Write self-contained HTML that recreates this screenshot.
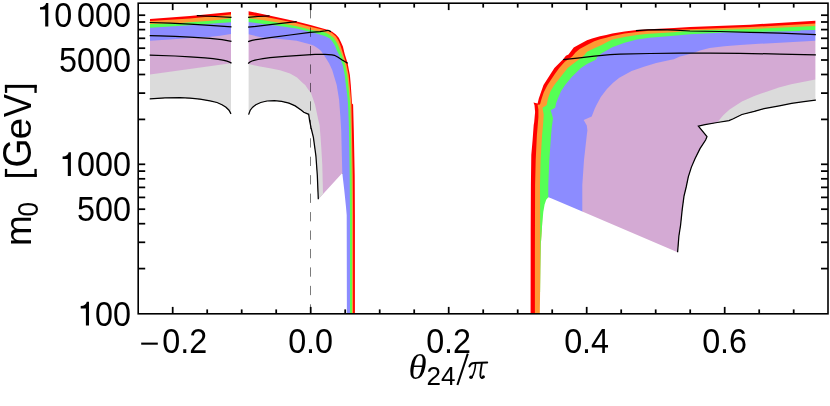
<!DOCTYPE html>
<html><head><meta charset="utf-8"><title>plot</title>
<style>html,body{margin:0;padding:0;background:#fff;}body{width:830px;height:406px;overflow:hidden;font-family:"Liberation Sans",sans-serif;}</style></head>
<body>
<svg width="830" height="406" viewBox="0 0 830 406" style="display:block;will-change:transform" font-family="Liberation Sans, sans-serif" fill="#000">
<polygon points="147.0,18.9 150.0,18.9 190.0,16.0 231.0,12.1 234.0,12.1 234.0,113.9 231.0,113.9 229.0,110.2 226.0,107.2 222.0,104.7 217.0,102.5 210.0,100.8 200.0,99.2 190.0,98.2 180.0,97.7 165.0,97.9 150.0,98.8 147.0,98.8" fill="#ff0000"/>
<polygon points="147.0,21.1 150.0,21.1 190.0,18.6 231.0,14.4 234.0,14.4 234.0,113.9 231.0,113.9 229.0,110.2 226.0,107.2 222.0,104.7 217.0,102.5 210.0,100.8 200.0,99.2 190.0,98.2 180.0,97.7 165.0,97.9 150.0,98.8 147.0,98.8" fill="#ff9933"/>
<polygon points="147.0,24.0 150.0,24.0 177.6,23.3 190.0,22.2 208.0,21.0 220.0,19.7 231.0,18.2 234.0,18.2 234.0,113.9 231.0,113.9 229.0,110.2 226.0,107.2 222.0,104.7 217.0,102.5 210.0,100.8 200.0,99.2 190.0,98.2 180.0,97.7 165.0,97.9 150.0,98.8 147.0,98.8" fill="#55ff55"/>
<polygon points="147.0,27.8 150.0,27.8 190.0,25.3 231.0,22.2 234.0,22.2 234.0,113.9 231.0,113.9 229.0,110.2 226.0,107.2 222.0,104.7 217.0,102.5 210.0,100.8 200.0,99.2 190.0,98.2 180.0,97.7 165.0,97.9 150.0,98.8 147.0,98.8" fill="#8c8cff"/>
<polygon points="147.0,40.7 150.0,40.7 170.0,39.5 190.0,38.0 209.0,37.1 220.0,35.7 231.0,34.0 234.0,34.0 234.0,113.9 231.0,113.9 229.0,110.2 226.0,107.2 222.0,104.7 217.0,102.5 210.0,100.8 200.0,99.2 190.0,98.2 180.0,97.7 165.0,97.9 150.0,98.8 147.0,98.8" fill="#d4aad4"/>
<polygon points="147.0,74.6 150.0,74.6 231.0,63.3 234.0,63.3 234.0,113.9 231.0,113.9 229.0,110.2 226.0,107.2 222.0,104.7 217.0,102.5 210.0,100.8 200.0,99.2 190.0,98.2 180.0,97.7 165.0,97.9 150.0,98.8 147.0,98.8" fill="#dbdbdb"/>
<polygon points="246.0,11.2 248.6,11.2 264.6,14.6 296.7,21.6 311.4,25.3 321.1,28.0 329.2,30.2 332.2,31.7 335.9,34.4 338.8,37.7 341.0,42.2 342.9,46.6 344.7,53.9 347.7,63.5 348.9,70.0 349.9,75.0 350.8,85.0 352.0,103.5 353.1,104.5 353.8,130.0 354.7,175.0 354.9,215.0 354.9,313.8 348.1,313.8 347.9,215.0 347.2,206.9 345.4,189.6 343.6,174.5 341.4,172.2 318.2,197.5 317.3,175.0 315.9,155.8 313.4,137.3 311.0,127.5 309.6,120.7 308.7,114.3 303.8,112.3 301.4,110.2 295.2,105.9 289.0,103.2 281.7,101.4 274.3,100.6 266.9,101.0 260.7,102.5 255.8,104.7 252.7,107.2 250.2,110.2 248.6,114.6 246.0,114.6" fill="#ff0000"/>
<polygon points="246.0,15.1 248.6,15.1 264.6,16.7 280.0,19.7 296.7,23.2 311.4,26.9 321.0,29.2 328.5,31.1 332.2,33.3 335.9,36.6 338.5,40.7 340.3,45.1 341.9,50.0 343.3,54.6 346.6,65.0 348.6,75.0 349.6,85.0 351.4,103.5 351.9,130.0 352.8,175.0 353.1,215.0 353.1,313.8 348.1,313.8 347.9,215.0 347.2,206.9 345.4,189.6 343.6,174.5 341.4,172.2 318.2,197.5 317.3,175.0 315.9,155.8 313.4,137.3 311.0,127.5 309.6,120.7 308.7,114.3 303.8,112.3 301.4,110.2 295.2,105.9 289.0,103.2 281.7,101.4 274.3,100.6 266.9,101.0 260.7,102.5 255.8,104.7 252.7,107.2 250.2,110.2 248.6,114.6 246.0,114.6" fill="#ff9933"/>
<polygon points="246.0,18.2 248.6,18.2 262.0,20.0 274.6,22.0 285.0,23.9 296.7,26.3 305.0,28.2 309.6,29.7 317.4,31.0 322.0,31.7 326.0,32.8 329.2,34.4 333.7,37.7 336.6,42.2 338.5,45.9 339.9,50.0 341.8,54.6 345.1,65.0 347.2,75.0 348.3,85.0 350.2,103.5 350.9,130.0 351.6,175.0 351.9,215.0 351.9,313.8 348.1,313.8 347.9,215.0 347.2,206.9 345.4,189.6 343.6,174.5 341.4,172.2 318.2,197.5 317.3,175.0 315.9,155.8 313.4,137.3 311.0,127.5 309.6,120.7 308.7,114.3 303.8,112.3 301.4,110.2 295.2,105.9 289.0,103.2 281.7,101.4 274.3,100.6 266.9,101.0 260.7,102.5 255.8,104.7 252.7,107.2 250.2,110.2 248.6,114.6 246.0,114.6" fill="#55ff55"/>
<polygon points="246.0,22.0 248.6,22.0 270.0,24.7 296.7,28.4 310.5,32.0 317.4,33.7 324.8,35.9 330.0,38.5 332.9,42.2 335.1,45.9 336.6,50.0 339.6,56.1 342.9,65.7 344.7,75.0 345.9,85.0 347.5,97.3 348.3,109.6 348.9,125.0 349.7,175.0 350.0,215.0 350.0,313.8 346.9,313.8 346.7,215.0 346.0,206.9 344.2,189.6 342.3,173.0 341.4,172.2 318.2,197.5 317.3,175.0 315.9,155.8 313.4,137.3 311.0,127.5 309.6,120.7 308.7,114.3 303.8,112.3 301.4,110.2 295.2,105.9 289.0,103.2 281.7,101.4 274.3,100.6 266.9,101.0 260.7,102.5 255.8,104.7 252.7,107.2 250.2,110.2 248.6,114.6 246.0,114.6" fill="#8c8cff"/>
<polygon points="246.0,34.3 248.6,34.3 262.0,37.6 280.0,38.9 296.7,40.7 305.0,43.0 310.0,44.3 314.0,45.7 318.5,48.8 321.1,50.9 325.5,57.6 329.2,63.5 332.2,70.1 333.7,75.0 336.7,85.0 339.1,99.8 340.3,115.8 341.2,130.0 341.7,149.6 342.3,173.0 318.3,199.2 317.3,175.0 315.9,155.8 313.4,137.3 311.0,127.5 309.6,120.7 308.7,114.3 303.8,112.3 301.4,110.2 295.2,105.9 289.0,103.2 281.7,101.4 274.3,100.6 266.9,101.0 260.7,102.5 255.8,104.7 252.7,107.2 250.2,110.2 248.6,114.6 246.0,114.6" fill="#d4aad4"/>
<polygon points="246.0,64.1 248.6,64.1 260.0,66.6 270.0,68.2 280.0,70.2 290.0,73.6 297.0,77.6 303.0,83.2 305.2,85.0 308.0,89.3 310.8,92.4 315.1,104.7 318.2,119.5 319.6,125.0 320.4,135.0 321.4,149.6 322.3,165.0 323.0,193.8 318.3,199.2 317.3,175.0 315.9,155.8 313.4,137.3 311.0,127.5 309.6,120.7 308.7,114.3 303.8,112.3 301.4,110.2 295.2,105.9 289.0,103.2 281.7,101.4 274.3,100.6 266.9,101.0 260.7,102.5 255.8,104.7 252.7,107.2 250.2,110.2 248.6,114.6 246.0,114.6" fill="#dbdbdb"/>
<polygon points="530.6,313.8 530.7,230.0 530.9,185.0 531.3,155.0 532.6,140.0 533.7,125.0 534.2,121.9 535.1,112.1 534.5,105.3 533.5,102.5 537.6,103.5 538.8,98.5 541.3,91.2 543.5,85.0 549.6,75.6 554.4,68.0 556.9,65.6 562.9,59.4 565.9,55.7 568.5,54.6 573.7,47.6 579.6,44.3 587.0,40.2 592.1,38.4 600.0,36.3 606.2,34.9 612.3,33.5 624.6,31.6 636.9,30.0 649.3,29.2 673.9,27.9 690.0,27.1 750.0,24.7 815.4,20.8 818.0,20.8 818.0,100.1 815.4,100.1 803.9,101.6 791.6,103.3 779.3,105.8 764.1,108.6 754.3,111.4 741.9,114.5 733.3,118.8 729.0,120.6 717.3,122.5 705.0,124.6 698.4,126.1 707.0,136.7 705.6,140.0 700.0,148.6 695.1,158.5 691.4,167.1 688.3,176.9 686.2,187.0 684.0,196.1 682.2,209.6 680.6,225.0 678.9,236.0 677.7,250.9 551.0,196.8 547.6,196.2 545.2,199.0 543.5,204.2 542.2,211.8 541.4,220.4 540.9,225.0 539.8,243.5 539.2,270.0 538.6,313.8" fill="#ff0000"/>
<polygon points="534.9,313.8 534.9,250.0 535.1,185.0 535.7,160.0 536.9,135.0 537.6,126.9 538.4,117.0 538.4,109.6 537.6,104.7 540.0,104.5 541.3,99.8 543.7,92.4 547.5,85.0 554.5,74.4 559.2,68.0 564.8,61.7 572.2,56.5 575.5,52.4 579.6,49.1 587.0,45.0 594.3,41.3 600.0,39.3 606.2,37.7 612.3,35.9 624.6,33.5 636.9,32.0 649.3,30.8 673.9,29.8 690.0,29.2 750.0,27.1 815.4,23.4 818.0,23.4 818.0,100.1 815.4,100.1 803.9,101.6 791.6,103.3 779.3,105.8 764.1,108.6 754.3,111.4 741.9,114.5 733.3,118.8 729.0,120.6 717.3,122.5 705.0,124.6 698.4,126.1 707.0,136.7 705.6,140.0 700.0,148.6 695.1,158.5 691.4,167.1 688.3,176.9 686.2,187.0 684.0,196.1 682.2,209.6 680.6,225.0 678.9,236.0 677.7,250.9 551.0,196.8 547.6,196.2 545.2,199.0 543.5,204.2 542.5,211.8 542.2,220.6 542.1,225.0 540.9,243.5 540.4,270.0 539.8,313.8" fill="#ff9933"/>
<polygon points="540.1,292.0 540.2,270.0 540.3,250.0 540.2,225.0 540.0,185.0 540.6,160.0 542.1,135.0 543.1,124.4 543.7,114.6 542.5,107.8 546.6,105.3 548.0,98.5 550.5,91.2 554.3,85.0 560.6,76.9 567.7,68.0 572.2,64.6 579.6,59.1 584.0,55.4 587.0,51.7 594.3,48.3 601.7,45.0 606.2,42.6 612.3,39.6 624.6,36.9 636.9,35.0 649.3,33.7 673.9,32.2 690.0,30.5 700.0,30.2 750.0,29.1 815.4,25.9 818.0,25.9 818.0,100.1 815.4,100.1 803.9,101.6 791.6,103.3 779.3,105.8 764.1,108.6 754.3,111.4 741.9,114.5 733.3,118.8 729.0,120.6 717.3,122.5 705.0,124.6 698.4,126.1 707.0,136.7 705.6,140.0 700.0,148.6 695.1,158.5 691.4,167.1 688.3,176.9 686.2,187.0 684.0,196.1 682.2,209.6 680.6,225.0 678.9,236.0 677.7,250.9 551.0,196.8 548.3,197.2 546.2,199.7 544.6,204.6 543.3,212.0 542.5,220.6 542.1,225.0 540.9,243.5 540.5,270.0 540.2,292.0" fill="#55ff55"/>
<polygon points="548.3,197.2 548.3,185.0 549.3,160.0 551.1,135.0 551.7,128.1 553.0,118.3 550.7,110.2 555.2,107.8 556.0,103.5 557.9,98.5 561.0,91.2 565.1,85.0 571.7,76.9 581.0,68.0 587.0,63.9 595.8,59.8 597.3,56.8 601.7,53.2 606.2,50.8 612.3,47.3 624.6,42.7 636.9,39.6 649.3,37.8 673.9,35.7 690.0,34.3 724.5,32.6 750.0,31.9 800.0,31.0 800.5,30.3 815.4,30.0 818.0,30.0 818.0,100.1 815.4,100.1 803.9,101.6 791.6,103.3 779.3,105.8 764.1,108.6 754.3,111.4 741.9,114.5 733.3,118.8 729.0,120.6 717.3,122.5 705.0,124.6 698.4,126.1 707.0,136.7 705.6,140.0 700.0,148.6 695.1,158.5 691.4,167.1 688.3,176.9 686.2,187.0 684.0,196.1 682.2,209.6 680.6,225.0 678.9,236.0 677.7,250.9 583.6,210.7 582.3,211.5 550.5,197.9" fill="#8c8cff"/>
<polygon points="582.3,211.5 582.3,185.0 584.0,160.0 586.8,135.0 587.4,130.6 586.8,125.6 583.7,120.1 591.7,116.4 594.8,108.4 596.5,105.0 600.8,96.9 606.9,88.9 613.1,82.7 619.3,77.8 631.6,71.0 643.9,66.7 656.2,63.0 670.0,59.9 673.9,59.3 680.0,56.6 686.2,54.9 693.3,53.0 700.0,50.6 709.6,48.1 724.3,46.3 740.0,44.9 759.0,43.8 793.4,42.0 815.4,40.8 818.0,40.8 818.0,100.1 815.4,100.1 803.9,101.6 791.6,103.3 779.3,105.8 764.1,108.6 754.3,111.4 741.9,114.5 733.3,118.8 729.0,120.6 717.3,122.5 705.0,124.6 698.4,126.1 707.0,136.7 705.6,140.0 700.0,148.6 695.1,158.5 691.4,167.1 688.3,176.9 686.2,187.0 684.0,196.1 682.2,209.6 680.6,225.0 678.9,236.0 677.6,252.3" fill="#d4aad4"/>
<polygon points="717.3,122.3 723.5,115.1 729.6,109.6 741.9,101.6 754.3,96.0 766.6,91.7 778.9,87.6 791.2,84.3 803.9,81.7 815.4,79.6 818.0,79.6 818.0,100.1 815.4,100.1 803.9,101.6 791.6,103.3 779.3,105.8 764.1,108.6 754.3,111.4 741.9,114.5 733.3,118.8 729.0,120.6 717.3,122.5" fill="#dbdbdb"/>
<rect x="142" y="8" width="8" height="115" fill="#fff"/>
<rect x="231.0" y="5" width="17.6" height="120" fill="#fff"/>
<rect x="815.4" y="12" width="5" height="95" fill="#fff"/>
<polyline points="196.8,15.6 215.0,16.5 231.5,17.3" fill="none" stroke="#000" stroke-width="1.25" stroke-linejoin="miter" stroke-linecap="butt"/>
<polyline points="149.7,22.5 170.0,23.2 190.0,24.1 210.0,25.3 231.5,26.8" fill="none" stroke="#000" stroke-width="1.25" stroke-linejoin="miter" stroke-linecap="butt"/>
<polyline points="149.7,35.6 160.0,35.9 175.0,36.4 190.0,37.1 210.0,38.4 222.0,39.7 231.5,41.4" fill="none" stroke="#000" stroke-width="1.25" stroke-linejoin="miter" stroke-linecap="butt"/>
<polyline points="149.7,55.1 175.0,56.0 190.0,56.9 205.0,57.9 213.0,58.6 219.8,59.6 224.0,60.4 227.0,61.2 229.5,62.1 231.5,63.1" fill="none" stroke="#000" stroke-width="1.25" stroke-linejoin="miter" stroke-linecap="butt"/>
<polyline points="149.7,98.8 150.0,98.8 165.0,97.9 180.0,97.7 190.0,98.2 200.0,99.2 210.0,100.8 217.0,102.5 222.0,104.7 226.0,107.2 229.0,110.2 231.0,113.9" fill="none" stroke="#000" stroke-width="1.25" stroke-linejoin="miter" stroke-linecap="butt"/>
<polyline points="248.1,17.3 258.0,16.5 269.6,15.8" fill="none" stroke="#000" stroke-width="1.25" stroke-linejoin="miter" stroke-linecap="butt"/>
<polyline points="248.1,27.2 270.2,24.6 296.7,21.7" fill="none" stroke="#000" stroke-width="1.25" stroke-linejoin="miter" stroke-linecap="butt"/>
<polyline points="248.1,41.7 252.0,40.3 258.0,39.3 270.0,37.6 290.0,35.0 310.0,32.4 320.0,31.6 325.0,30.9 328.1,30.3 330.9,31.6" fill="none" stroke="#000" stroke-width="1.25" stroke-linejoin="miter" stroke-linecap="butt"/>
<polyline points="248.1,63.5 250.0,62.0 252.0,61.0 255.0,60.2 258.0,59.5 263.0,58.6 270.0,57.7 285.0,56.4 300.0,55.3 315.0,54.4 325.0,54.3 332.0,54.9 334.4,55.3 338.1,57.2 341.8,59.8 347.7,63.3" fill="none" stroke="#000" stroke-width="1.25" stroke-linejoin="miter" stroke-linecap="butt"/>
<polyline points="248.6,114.6 250.2,110.2 252.7,107.2 255.8,104.7 260.7,102.5 266.9,101.0 274.3,100.6 281.7,101.4 289.0,103.2 295.2,105.9 301.4,110.2 303.8,112.3 308.7,114.3 309.6,120.7 311.0,127.5 313.4,137.3 315.9,155.8 317.3,175.0 318.3,199.2" fill="none" stroke="#000" stroke-width="1.25" stroke-linejoin="miter" stroke-linecap="butt"/>
<polyline points="635.9,30.7 648.0,29.9 659.6,29.6 675.0,30.1 690.0,31.0 720.0,31.5 750.0,32.3 780.0,33.2 815.9,34.6" fill="none" stroke="#000" stroke-width="1.25" stroke-linejoin="miter" stroke-linecap="butt"/>
<polyline points="563.2,59.6 579.6,57.8 594.3,56.1 610.0,54.6 620.0,54.2 650.0,53.5 680.0,53.2 710.0,53.2 740.0,53.3 780.0,54.1 815.9,54.9" fill="none" stroke="#000" stroke-width="1.25" stroke-linejoin="miter" stroke-linecap="butt"/>
<polyline points="815.9,100.1 815.4,100.1 803.9,101.6 791.6,103.3 779.3,105.8 764.1,108.6 754.3,111.4 741.9,114.5 733.3,118.8 729.0,120.6 717.3,122.5 705.0,124.6 698.4,126.1 707.0,136.7 705.6,140.0 700.0,148.6 695.1,158.5 691.4,167.1 688.3,176.9 686.2,187.0 684.0,196.1 682.2,209.6 680.6,225.0 678.9,236.0 677.6,252.3" fill="none" stroke="#000" stroke-width="1.25" stroke-linejoin="miter" stroke-linecap="butt"/>
<line x1="310.5" x2="310.5" y1="304.30" y2="313.60" stroke="#000" stroke-width="0.52"/>
<line x1="310.5" x2="310.5" y1="285.85" y2="295.15" stroke="#000" stroke-width="0.52"/>
<line x1="310.5" x2="310.5" y1="267.40" y2="276.70" stroke="#000" stroke-width="0.52"/>
<line x1="310.5" x2="310.5" y1="248.95" y2="258.25" stroke="#000" stroke-width="0.52"/>
<line x1="310.5" x2="310.5" y1="230.50" y2="239.80" stroke="#000" stroke-width="0.52"/>
<line x1="310.5" x2="310.5" y1="212.05" y2="221.35" stroke="#000" stroke-width="0.52"/>
<line x1="310.5" x2="310.5" y1="193.60" y2="202.90" stroke="#000" stroke-width="0.52"/>
<line x1="310.5" x2="310.5" y1="175.15" y2="184.45" stroke="#000" stroke-width="0.52"/>
<line x1="310.5" x2="310.5" y1="156.70" y2="166.00" stroke="#000" stroke-width="0.52"/>
<line x1="310.5" x2="310.5" y1="138.25" y2="147.55" stroke="#000" stroke-width="0.52"/>
<line x1="310.5" x2="310.5" y1="119.80" y2="129.10" stroke="#000" stroke-width="0.52"/>
<line x1="310.5" x2="310.5" y1="101.35" y2="110.65" stroke="#000" stroke-width="0.52"/>
<line x1="310.5" x2="310.5" y1="82.90" y2="92.20" stroke="#000" stroke-width="0.52"/>
<line x1="310.5" x2="310.5" y1="64.45" y2="73.75" stroke="#000" stroke-width="0.52"/>
<line x1="310.5" x2="310.5" y1="46.00" y2="55.30" stroke="#000" stroke-width="0.52"/>
<line x1="310.5" x2="310.5" y1="27.55" y2="36.85" stroke="#000" stroke-width="0.52"/>
<line x1="310.5" x2="310.5" y1="9.10" y2="18.40" stroke="#000" stroke-width="0.52"/>
<rect x="138.2" y="3.2" width="689.8" height="310.6" fill="none" stroke="#000" stroke-width="1.6"/>
<line x1="172.7" y1="313.8" x2="172.7" y2="306.9" stroke="#000" stroke-width="1.75"/>
<line x1="172.7" y1="3.2" x2="172.7" y2="10.1" stroke="#000" stroke-width="1.75"/>
<line x1="207.2" y1="313.8" x2="207.2" y2="309.4" stroke="#000" stroke-width="1.75"/>
<line x1="207.2" y1="3.2" x2="207.2" y2="7.6" stroke="#000" stroke-width="1.75"/>
<line x1="241.7" y1="313.8" x2="241.7" y2="309.4" stroke="#000" stroke-width="1.75"/>
<line x1="241.7" y1="3.2" x2="241.7" y2="7.6" stroke="#000" stroke-width="1.75"/>
<line x1="276.2" y1="313.8" x2="276.2" y2="309.4" stroke="#000" stroke-width="1.75"/>
<line x1="276.2" y1="3.2" x2="276.2" y2="7.6" stroke="#000" stroke-width="1.75"/>
<line x1="310.7" y1="313.8" x2="310.7" y2="306.9" stroke="#000" stroke-width="1.75"/>
<line x1="310.7" y1="3.2" x2="310.7" y2="10.1" stroke="#000" stroke-width="1.75"/>
<line x1="345.2" y1="313.8" x2="345.2" y2="309.4" stroke="#000" stroke-width="1.75"/>
<line x1="345.2" y1="3.2" x2="345.2" y2="7.6" stroke="#000" stroke-width="1.75"/>
<line x1="379.7" y1="313.8" x2="379.7" y2="309.4" stroke="#000" stroke-width="1.75"/>
<line x1="379.7" y1="3.2" x2="379.7" y2="7.6" stroke="#000" stroke-width="1.75"/>
<line x1="414.2" y1="313.8" x2="414.2" y2="309.4" stroke="#000" stroke-width="1.75"/>
<line x1="414.2" y1="3.2" x2="414.2" y2="7.6" stroke="#000" stroke-width="1.75"/>
<line x1="448.7" y1="313.8" x2="448.7" y2="306.9" stroke="#000" stroke-width="1.75"/>
<line x1="448.7" y1="3.2" x2="448.7" y2="10.1" stroke="#000" stroke-width="1.75"/>
<line x1="483.2" y1="313.8" x2="483.2" y2="309.4" stroke="#000" stroke-width="1.75"/>
<line x1="483.2" y1="3.2" x2="483.2" y2="7.6" stroke="#000" stroke-width="1.75"/>
<line x1="517.7" y1="313.8" x2="517.7" y2="309.4" stroke="#000" stroke-width="1.75"/>
<line x1="517.7" y1="3.2" x2="517.7" y2="7.6" stroke="#000" stroke-width="1.75"/>
<line x1="552.2" y1="313.8" x2="552.2" y2="309.4" stroke="#000" stroke-width="1.75"/>
<line x1="552.2" y1="3.2" x2="552.2" y2="7.6" stroke="#000" stroke-width="1.75"/>
<line x1="586.7" y1="313.8" x2="586.7" y2="306.9" stroke="#000" stroke-width="1.75"/>
<line x1="586.7" y1="3.2" x2="586.7" y2="10.1" stroke="#000" stroke-width="1.75"/>
<line x1="621.2" y1="313.8" x2="621.2" y2="309.4" stroke="#000" stroke-width="1.75"/>
<line x1="621.2" y1="3.2" x2="621.2" y2="7.6" stroke="#000" stroke-width="1.75"/>
<line x1="655.7" y1="313.8" x2="655.7" y2="309.4" stroke="#000" stroke-width="1.75"/>
<line x1="655.7" y1="3.2" x2="655.7" y2="7.6" stroke="#000" stroke-width="1.75"/>
<line x1="690.2" y1="313.8" x2="690.2" y2="309.4" stroke="#000" stroke-width="1.75"/>
<line x1="690.2" y1="3.2" x2="690.2" y2="7.6" stroke="#000" stroke-width="1.75"/>
<line x1="724.7" y1="313.8" x2="724.7" y2="306.9" stroke="#000" stroke-width="1.75"/>
<line x1="724.7" y1="3.2" x2="724.7" y2="10.1" stroke="#000" stroke-width="1.75"/>
<line x1="759.2" y1="313.8" x2="759.2" y2="309.4" stroke="#000" stroke-width="1.75"/>
<line x1="759.2" y1="3.2" x2="759.2" y2="7.6" stroke="#000" stroke-width="1.75"/>
<line x1="793.7" y1="313.8" x2="793.7" y2="309.4" stroke="#000" stroke-width="1.75"/>
<line x1="793.7" y1="3.2" x2="793.7" y2="7.6" stroke="#000" stroke-width="1.75"/>
<line x1="138.2" y1="268.6" x2="145.2" y2="268.6" stroke="#000" stroke-width="1.75"/>
<line x1="828.0" y1="268.6" x2="821.0" y2="268.6" stroke="#000" stroke-width="1.75"/>
<line x1="138.2" y1="242.3" x2="145.2" y2="242.3" stroke="#000" stroke-width="1.75"/>
<line x1="828.0" y1="242.3" x2="821.0" y2="242.3" stroke="#000" stroke-width="1.75"/>
<line x1="138.2" y1="223.7" x2="145.2" y2="223.7" stroke="#000" stroke-width="1.75"/>
<line x1="828.0" y1="223.7" x2="821.0" y2="223.7" stroke="#000" stroke-width="1.75"/>
<line x1="138.2" y1="209.2" x2="145.2" y2="209.2" stroke="#000" stroke-width="1.75"/>
<line x1="828.0" y1="209.2" x2="821.0" y2="209.2" stroke="#000" stroke-width="1.75"/>
<line x1="138.2" y1="197.4" x2="145.2" y2="197.4" stroke="#000" stroke-width="1.75"/>
<line x1="828.0" y1="197.4" x2="821.0" y2="197.4" stroke="#000" stroke-width="1.75"/>
<line x1="138.2" y1="187.4" x2="145.2" y2="187.4" stroke="#000" stroke-width="1.75"/>
<line x1="828.0" y1="187.4" x2="821.0" y2="187.4" stroke="#000" stroke-width="1.75"/>
<line x1="138.2" y1="178.8" x2="145.2" y2="178.8" stroke="#000" stroke-width="1.75"/>
<line x1="828.0" y1="178.8" x2="821.0" y2="178.8" stroke="#000" stroke-width="1.75"/>
<line x1="138.2" y1="171.1" x2="145.2" y2="171.1" stroke="#000" stroke-width="1.75"/>
<line x1="828.0" y1="171.1" x2="821.0" y2="171.1" stroke="#000" stroke-width="1.75"/>
<line x1="138.2" y1="164.3" x2="145.2" y2="164.3" stroke="#000" stroke-width="1.75"/>
<line x1="828.0" y1="164.3" x2="821.0" y2="164.3" stroke="#000" stroke-width="1.75"/>
<line x1="138.2" y1="119.4" x2="145.2" y2="119.4" stroke="#000" stroke-width="1.75"/>
<line x1="828.0" y1="119.4" x2="821.0" y2="119.4" stroke="#000" stroke-width="1.75"/>
<line x1="138.2" y1="93.1" x2="145.2" y2="93.1" stroke="#000" stroke-width="1.75"/>
<line x1="828.0" y1="93.1" x2="821.0" y2="93.1" stroke="#000" stroke-width="1.75"/>
<line x1="138.2" y1="74.5" x2="145.2" y2="74.5" stroke="#000" stroke-width="1.75"/>
<line x1="828.0" y1="74.5" x2="821.0" y2="74.5" stroke="#000" stroke-width="1.75"/>
<line x1="138.2" y1="60.0" x2="145.2" y2="60.0" stroke="#000" stroke-width="1.75"/>
<line x1="828.0" y1="60.0" x2="821.0" y2="60.0" stroke="#000" stroke-width="1.75"/>
<line x1="138.2" y1="48.2" x2="145.2" y2="48.2" stroke="#000" stroke-width="1.75"/>
<line x1="828.0" y1="48.2" x2="821.0" y2="48.2" stroke="#000" stroke-width="1.75"/>
<line x1="138.2" y1="38.3" x2="145.2" y2="38.3" stroke="#000" stroke-width="1.75"/>
<line x1="828.0" y1="38.3" x2="821.0" y2="38.3" stroke="#000" stroke-width="1.75"/>
<line x1="138.2" y1="29.6" x2="145.2" y2="29.6" stroke="#000" stroke-width="1.75"/>
<line x1="828.0" y1="29.6" x2="821.0" y2="29.6" stroke="#000" stroke-width="1.75"/>
<line x1="138.2" y1="22.0" x2="145.2" y2="22.0" stroke="#000" stroke-width="1.75"/>
<line x1="828.0" y1="22.0" x2="821.0" y2="22.0" stroke="#000" stroke-width="1.75"/>
<line x1="138.2" y1="15.2" x2="145.2" y2="15.2" stroke="#000" stroke-width="1.75"/>
<line x1="828.0" y1="15.2" x2="821.0" y2="15.2" stroke="#000" stroke-width="1.75"/>
<text transform="translate(131.00,26.70) scale(0.937,1)" text-anchor="end" font-size="34.5" >0<tspan dx="5.1">000</tspan></text>
<path d="M48.30,26.60 L48.30,3.00 L46.10,3.00 C45.50,5.40 43.70,7.20 40.00,7.30 L40.00,9.60 L45.20,9.60 L45.20,26.60 Z" fill="#000"/>
<text transform="translate(131.00,72.35) scale(0.937,1)" text-anchor="end" font-size="34.5" >5000</text>
<text transform="translate(131.00,176.00) scale(0.937,1)" text-anchor="end" font-size="34.5" >000</text>
<path d="M70.90,175.90 L70.90,152.30 L68.70,152.30 C68.10,154.70 66.30,156.50 62.60,156.60 L62.60,158.90 L67.80,158.90 L67.80,175.90 Z" fill="#000"/>
<text transform="translate(131.00,221.35) scale(0.937,1)" text-anchor="end" font-size="34.5" >500</text>
<text transform="translate(131.00,325.50) scale(0.937,1)" text-anchor="end" font-size="34.5" >00</text>
<path d="M89.00,325.40 L89.00,301.80 L86.80,301.80 C86.20,304.20 84.40,306.00 80.70,306.10 L80.70,308.40 L85.90,308.40 L85.90,325.40 Z" fill="#000"/>
<text transform="translate(207.20,352.65) scale(0.937,1)" text-anchor="end" font-size="34.5" >0.2</text>
<rect x="141.2" y="342.6" width="16.6" height="2.1" fill="#000"/>
<text transform="translate(310.60,352.65) scale(0.937,1)" text-anchor="middle" font-size="34.5" >0.0</text>
<text transform="translate(448.60,352.65) scale(0.937,1)" text-anchor="middle" font-size="34.5" >0.2</text>
<text transform="translate(586.60,352.65) scale(0.937,1)" text-anchor="middle" font-size="34.5" >0.4</text>
<text transform="translate(724.60,352.65) scale(0.937,1)" text-anchor="middle" font-size="34.5" >0.6</text>
<text transform="translate(30.60,246.00) rotate(-90) scale(1.0,1)" font-size="37">m</text>
<text transform="translate(38.10,216.40) rotate(-90) scale(0.9,1)" font-size="29">0</text>
<text transform="translate(30.80,167.50) rotate(-90) scale(0.93,1)" font-size="40">G</text>
<text transform="translate(30.60,139.60) rotate(-90) scale(1.05,1)" font-size="37">e</text>
<text transform="translate(30.60,117.30) rotate(-90) scale(0.88,1)" font-size="39.6">V</text>
<rect x="4.90" y="174.00" width="31.80" height="2.90" fill="#000"/>
<rect x="4.90" y="168.90" width="2.30" height="8.00" fill="#000"/>
<rect x="34.40" y="168.90" width="2.30" height="8.00" fill="#000"/>
<rect x="4.90" y="84.90" width="31.80" height="2.90" fill="#000"/>
<rect x="4.90" y="84.90" width="2.30" height="8.00" fill="#000"/>
<rect x="34.40" y="84.90" width="2.30" height="8.00" fill="#000"/>
<text transform="translate(408.60,378.70) scale(1.02,1)" text-anchor="start" font-size="36.2" font-family="Liberation Serif" font-style="italic">θ</text>
<text transform="translate(426.60,385.30) scale(0.98,1)" text-anchor="start" font-size="26.6" >24</text>
<line x1="457.4" y1="385" x2="467.8" y2="353.6" stroke="#000" stroke-width="2.0"/>
<g fill="none" stroke="#000" stroke-linecap="round" stroke-linejoin="round"><path d="M469.4,366.4 C470.3,364.3 471.6,362.95 473.6,362.95 L487.2,362.6" stroke-width="2.0"/><path d="M475.6,363.2 C475.3,368 474.3,373.3 471.9,377.2" stroke-width="1.55"/><path d="M481.9,363.2 C481.2,368 480.1,372.5 480.4,375.8 C480.7,378.2 482.2,378.5 483.2,377.3" stroke-width="1.85"/></g><circle cx="471.0" cy="377.2" r="1.8"/><circle cx="483.4" cy="376.8" r="1.5"/>
</svg>
</body></html>
